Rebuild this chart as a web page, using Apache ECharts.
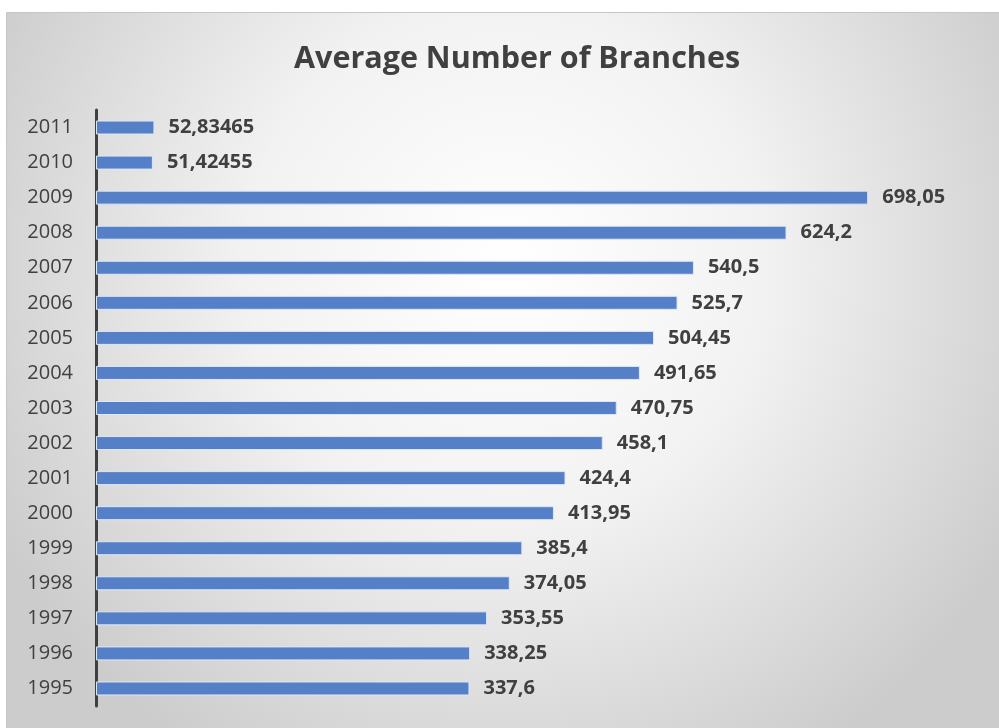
<!DOCTYPE html>
<html>
<head>
<meta charset="utf-8">
<script src="https://cdn.jsdelivr.net/npm/echarts@6/dist/echarts.min.js"></script>
<style>
  html, body { margin: 0; padding: 0; background: #ffffff; }
  #chart { width: 999px; height: 728px; }
</style>
</head>
<body>
<div id="chart"></div>
<script>
// Years shown top-to-bottom in reverse order on the category axis
const years = ['1995','1996','1997','1998','1999','2000','2001','2002','2003','2004','2005','2006','2007','2008','2009','2010','2011'];
const branches = [337.6, 338.25, 353.55, 374.05, 385.4, 413.95, 424.4, 458.1, 470.75, 491.65, 504.45, 525.7, 540.5, 624.2, 698.05, 51.42455, 52.83465];
const valueLabels = ['337,6','338,25','353,55','374,05','385,4','413,95','424,4','458,1','470,75','491,65','504,45','525,7','540,5','624,2','698,05','51,42455','52,83465'];

const chart = echarts.init(document.getElementById('chart'));
const textColor = '#404040';

chart.setOption({
  animation: false,
  graphic: [{
    type: 'rect',
    z: -10,
    shape: { x: 6.5, y: 12.5, width: 1000, height: 720 },
    style: {
      fill: new echarts.graphic.RadialGradient(0.5, 0.35, 0.8, [
        { offset: 0, color: '#ffffff' },
        { offset: 0.45, color: '#f2f2f2' },
        { offset: 1, color: '#cccccc' }
      ]),
      stroke: '#c6c6c6',
      lineWidth: 1
    }
  }],
  title: {
    text: 'Average Number of Branches',
    left: 289,
    top: 39,
    textStyle: {
      fontFamily: 'Open Sans',
      fontWeight: 'bold',
      fontSize: 30.5,
      color: textColor
    }
  },
  grid: { left: 96, top: 110, width: 885, height: 596, containLabel: false },
  xAxis: {
    type: 'value',
    min: 0,
    max: 800,
    show: false
  },
  yAxis: {
    type: 'category',
    data: years,
    axisLine: { show: true, lineStyle: { color: '#404040', width: 3 } },
    axisTick: { show: false },
    axisLabel: {
      color: textColor,
      fontFamily: 'Open Sans',
      fontSize: 20,
      margin: 23
    }
  },
  series: [{
    type: 'bar',
    data: branches,
    barWidth: 14,
    itemStyle: {
      color: '#5580c8',
      borderColor: '#dfe7f5',
      borderWidth: 1
    },
    label: {
      show: true,
      position: 'right',
      distance: 14,
      color: textColor,
      fontFamily: 'Open Sans',
      fontWeight: 'bold',
      fontSize: 20,
      formatter: p => valueLabels[p.dataIndex]
    }
  }]
});
</script>
</body>
</html>
